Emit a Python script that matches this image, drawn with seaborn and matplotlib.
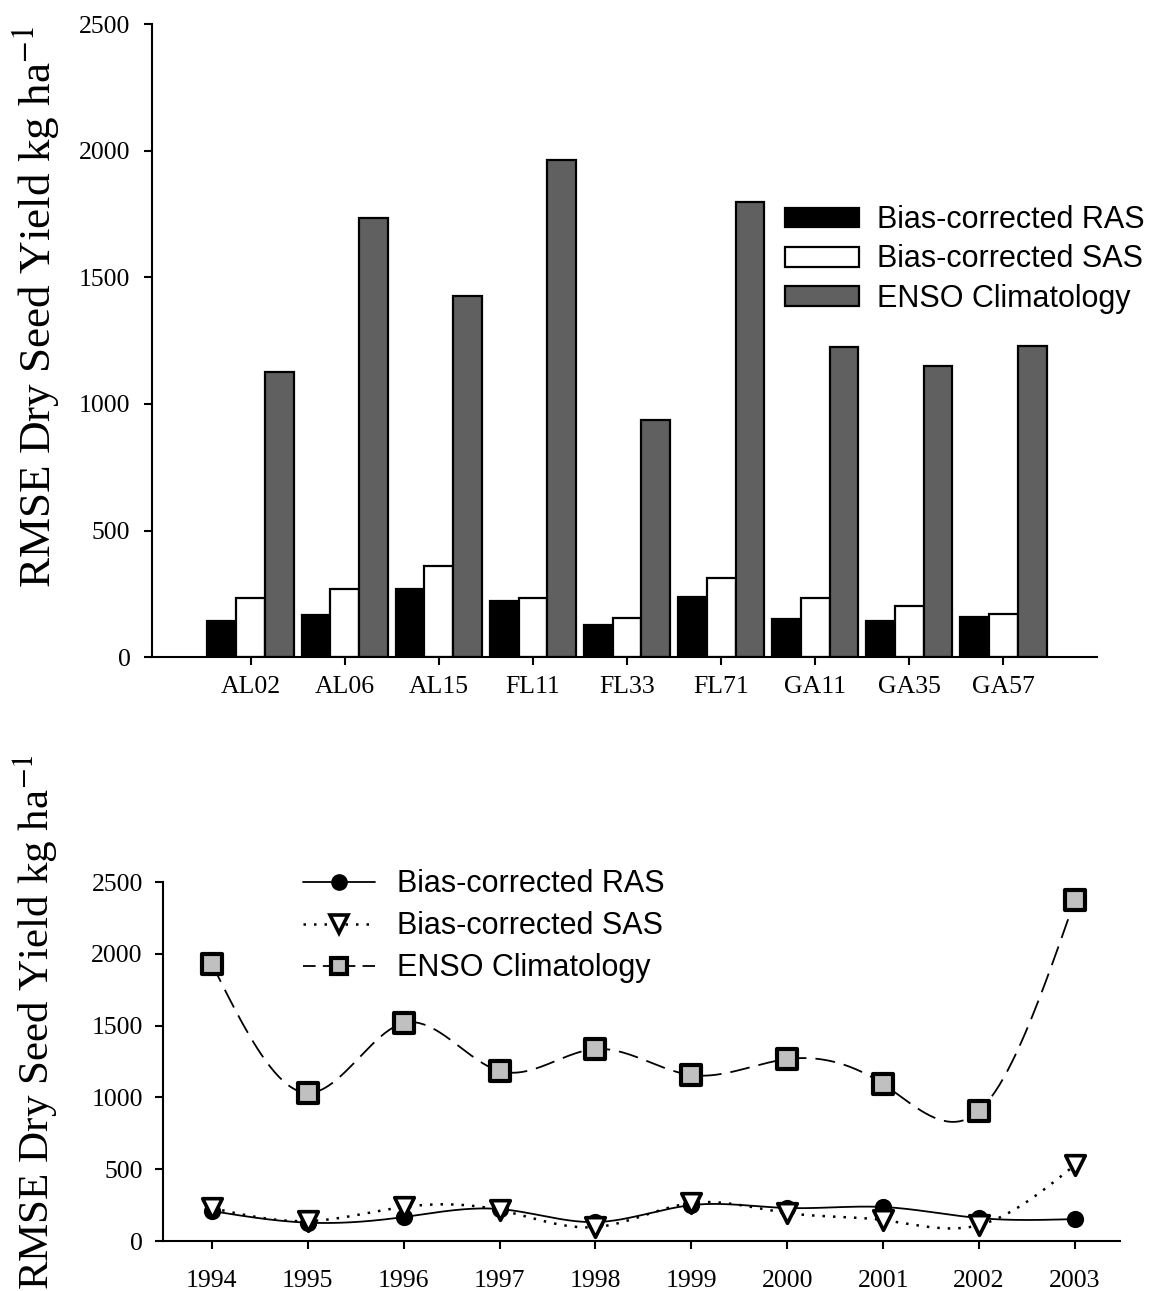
import numpy as np
import pandas as pd
import matplotlib
matplotlib.use("Agg")
import matplotlib.pyplot as plt
from matplotlib.patches import Patch
from matplotlib.lines import Line2D
import seaborn as sns

# ---------------- data ----------------
sites = ["AL02", "AL06", "AL15", "FL11", "FL33", "FL71", "GA11", "GA35", "GA57"]
ras_site = [142, 166, 268, 221, 126, 237, 150, 142, 158]
sas_site = [233, 268, 359, 233, 154, 312, 233, 201, 170]
enso_site = [1126, 1734, 1426, 1963, 936, 1797, 1224, 1149, 1228]

years = [1994, 1995, 1996, 1997, 1998, 1999, 2000, 2001, 2002, 2003]
ras_year = [209, 128, 167, 223, 132, 250, 230, 237, 160, 153]
sas_year = [230, 139, 237, 216, 97, 265, 195, 146, 111, 529]
enso_year = [1929, 1031, 1518, 1184, 1337, 1156, 1267, 1093, 905, 2375]

series_names = ["Bias-corrected RAS", "Bias-corrected SAS", "ENSO Climatology"]
yticks = [0, 500, 1000, 1500, 2000, 2500]

SERIF = ["Liberation Serif", "DejaVu Serif"]
SANS = ["Liberation Sans", "DejaVu Sans"]

sns.set_theme(style="ticks")
plt.rcParams["font.family"] = SANS
plt.rcParams["text.color"] = "black"
plt.rcParams["axes.labelcolor"] = "black"
plt.rcParams["axes.linewidth"] = 1.5
plt.rcParams["xtick.major.width"] = 1.5
plt.rcParams["ytick.major.width"] = 1.5
plt.rcParams["xtick.major.size"] = 5.5
plt.rcParams["ytick.major.size"] = 5.5
plt.rcParams["xtick.color"] = "black"
plt.rcParams["ytick.color"] = "black"
plt.rcParams["axes.edgecolor"] = "black"

TICK_FS = 18.5
LEG_FS = 22


def natural_spline(x, y, n=400):
    x = np.asarray(x, float)
    y = np.asarray(y, float)
    k = len(x)
    h = np.diff(x)
    A = np.zeros((k, k))
    b = np.zeros(k)
    A[0, 0] = 1
    A[-1, -1] = 1
    for i in range(1, k - 1):
        A[i, i - 1] = h[i - 1]
        A[i, i] = 2 * (h[i - 1] + h[i])
        A[i, i + 1] = h[i]
        b[i] = 3 * ((y[i + 1] - y[i]) / h[i] - (y[i] - y[i - 1]) / h[i - 1])
    c = np.linalg.solve(A, b)
    xs = np.linspace(x[0], x[-1], n)
    ys = np.empty_like(xs)
    for j, xv in enumerate(xs):
        i = min(np.searchsorted(x, xv, side="right") - 1, k - 2)
        bi = (y[i + 1] - y[i]) / h[i] - h[i] * (2 * c[i] + c[i + 1]) / 3
        di = (c[i + 1] - c[i]) / (3 * h[i])
        t = xv - x[i]
        ys[j] = y[i] + bi * t + c[i] * t ** 2 + di * t ** 3
    return xs, ys


fig = plt.figure(figsize=(11.6, 12.91), dpi=100)

# ---------------- top: bar chart ----------------
ax1 = fig.add_axes([0.131, 0.491, 0.815, 0.4903])
df = pd.DataFrame({
    "site": sites * 3,
    "series": [series_names[0]] * 9 + [series_names[1]] * 9 + [series_names[2]] * 9,
    "value": ras_site + sas_site + enso_site,
})
bar_colors = ["#000000", "#ffffff", "#606060"]
sns.barplot(data=df, x="site", y="value", hue="series", palette=bar_colors,
            saturation=1, width=0.92, edgecolor="black", linewidth=1.6,
            ax=ax1, legend=False, errorbar=None)
ax1.set_xlim(-1.05, 9.0)
ax1.set_ylim(0, 2500)
ax1.set_yticks(yticks)
ax1.set_yticklabels([str(v) for v in yticks], family=SERIF, fontsize=TICK_FS)
ax1.set_xticks(range(len(sites)))
ax1.set_xticklabels(sites, family=SERIF, fontsize=TICK_FS)
ax1.tick_params(axis="x", pad=8)
ax1.tick_params(axis="y", pad=10)
ax1.set_xlabel("")
ax1.set_ylabel("RMSE Dry Seed Yield kg ha$^{-1}$", family=SERIF, fontsize=32.5,
               math_fontfamily="stix")
ax1.yaxis.set_label_coords(-0.095, 0.553)
sns.despine(ax=ax1)
handles1 = [Patch(facecolor=c, edgecolor="black", linewidth=1.6) for c in bar_colors]
ax1.legend(handles1, series_names, loc="upper left", bbox_to_anchor=(0.677, 0.841),
           bbox_transform=fig.transFigure, frameon=False, fontsize=LEG_FS,
           handlelength=2.4, handleheight=0.62, handletextpad=0.6, labelspacing=0.3,
           borderaxespad=0, borderpad=0)

# ---------------- bottom: line chart ----------------
ax2 = fig.add_axes([0.1405, 0.0387, 0.8250, 0.2781])
line_specs = [
    (enso_year, dict(color="black", lw=1.3, dashes=(11, 5)), "s",
     dict(s=190, facecolor="#c0c0c0", edgecolor="black", linewidth=3.0)),
    (ras_year, dict(color="black", lw=1.3), "o",
     dict(s=130, facecolor="black", edgecolor="black", linewidth=1)),
    (sas_year, dict(color="black", lw=1.8, dashes=(1, 3.2)), "v",
     dict(s=200, facecolor="white", edgecolor="black", linewidth=2.6)),
]
for vals, lkw, mk, mkw in line_specs:
    xs, ys = natural_spline(years, vals)
    sns.lineplot(x=xs, y=ys, ax=ax2, sort=False, estimator=None, **lkw)
    sns.scatterplot(x=years, y=vals, marker=mk, ax=ax2, zorder=5, **mkw)

ax2.set_xlim(1993.49, 2003.47)
ax2.set_ylim(0, 2500)
ax2.set_yticks(yticks)
ax2.set_yticklabels([str(v) for v in yticks], family=SERIF, fontsize=TICK_FS)
ax2.set_xticks(years)
ax2.set_xticklabels([str(y) for y in years], family=SERIF, fontsize=TICK_FS)
ax2.tick_params(axis="x", pad=15)
ax2.tick_params(axis="y", pad=9)
ax2.set_ylabel("RMSE Dry Seed Yield kg ha$^{-1}$", family=SERIF, fontsize=31,
               math_fontfamily="stix")
ax2.yaxis.set_label_coords(-0.108, 0.61)
sns.despine(ax=ax2)

handles2 = [
    Line2D([], [], color="black", lw=1.3, marker="o", markersize=11,
           markerfacecolor="black", markeredgecolor="black"),
    Line2D([], [], color="black", lw=1.8, dashes=(1, 3.2), marker="v", markersize=13,
           markerfacecolor="white", markeredgecolor="black", markeredgewidth=2.6),
    Line2D([], [], color="black", lw=1.3, dashes=(7, 4), marker="s", markersize=12,
           markerfacecolor="#c0c0c0", markeredgecolor="black", markeredgewidth=3.0),
]
ax2.legend(handles2, series_names, loc="upper left", bbox_to_anchor=(0.261, 0.3265),
           bbox_transform=fig.transFigure, frameon=False, fontsize=LEG_FS,
           handlelength=2.35, handletextpad=0.75, labelspacing=0.39,
           borderaxespad=0, borderpad=0)

fig.savefig("out.png", dpi=100)
